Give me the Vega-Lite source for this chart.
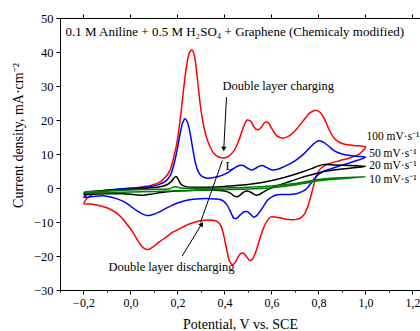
{
  "$schema": "https://vega.github.io/schema/vega-lite/v6.json",
  "width": 360,
  "height": 272,
  "autosize": {"type": "none"},
  "padding": {"left": 60, "top": 18, "right": 0, "bottom": 41},
  "config": {
    "font": "Liberation Serif",
    "view": {"stroke": null},
    "axis": {"grid": false, "domainColor": "#000", "tickColor": "#000", "labelColor": "#000", "titleColor": "#000", "labelFont": "Liberation Serif", "titleFont": "Liberation Serif", "titleFontWeight": "normal", "domainWidth": 1, "tickWidth": 1}
  },
  "datasets": {
    "cv": [
      {"s":"100","o":1,"v":-0.2,"i":-4.6},{"s":"100","o":2,"v":-0.185,"i":-3.0},{"s":"100","o":3,"v":-0.165,"i":-2.0},{"s":"100","o":4,"v":-0.13,"i":-1.3},{"s":"100","o":5,"v":-0.09,"i":-0.8},{"s":"100","o":6,"v":-0.03,"i":-0.3},{"s":"100","o":7,"v":0.04,"i":0.2},{"s":"100","o":8,"v":0.09,"i":0.8},{"s":"100","o":9,"v":0.125,"i":1.7},{"s":"100","o":10,"v":0.15,"i":3.3},{"s":"100","o":11,"v":0.168,"i":5.2},{"s":"100","o":12,"v":0.184,"i":9.0},{"s":"100","o":13,"v":0.198,"i":13.5},{"s":"100","o":14,"v":0.212,"i":20.5},{"s":"100","o":15,"v":0.226,"i":29.0},{"s":"100","o":16,"v":0.24,"i":36.5},{"s":"100","o":17,"v":0.252,"i":40.0},{"s":"100","o":18,"v":0.262,"i":40.6},{"s":"100","o":19,"v":0.272,"i":38.8},{"s":"100","o":20,"v":0.284,"i":32.5},{"s":"100","o":21,"v":0.296,"i":25.0},{"s":"100","o":22,"v":0.308,"i":19.5},{"s":"100","o":23,"v":0.322,"i":15.2},{"s":"100","o":24,"v":0.338,"i":12.2},{"s":"100","o":25,"v":0.356,"i":10.1},{"s":"100","o":26,"v":0.376,"i":9.1},{"s":"100","o":27,"v":0.397,"i":8.8},{"s":"100","o":28,"v":0.418,"i":9.4},{"s":"100","o":29,"v":0.44,"i":10.9},{"s":"100","o":30,"v":0.46,"i":13.8},{"s":"100","o":31,"v":0.48,"i":17.8},{"s":"100","o":32,"v":0.497,"i":20.0},{"s":"100","o":33,"v":0.512,"i":19.6},{"s":"100","o":34,"v":0.527,"i":17.8},{"s":"100","o":35,"v":0.541,"i":17.1},{"s":"100","o":36,"v":0.556,"i":17.8},{"s":"100","o":37,"v":0.572,"i":19.3},{"s":"100","o":38,"v":0.586,"i":19.2},{"s":"100","o":39,"v":0.602,"i":17.4},{"s":"100","o":40,"v":0.622,"i":15.4},{"s":"100","o":41,"v":0.648,"i":14.6},{"s":"100","o":42,"v":0.675,"i":15.3},{"s":"100","o":43,"v":0.705,"i":17.2},{"s":"100","o":44,"v":0.735,"i":19.8},{"s":"100","o":45,"v":0.762,"i":22.0},{"s":"100","o":46,"v":0.787,"i":22.9},{"s":"100","o":47,"v":0.808,"i":22.2},{"s":"100","o":48,"v":0.826,"i":20.2},{"s":"100","o":49,"v":0.845,"i":17.2},{"s":"100","o":50,"v":0.866,"i":14.7},{"s":"100","o":51,"v":0.892,"i":13.3},{"s":"100","o":52,"v":0.925,"i":12.7},{"s":"100","o":53,"v":0.965,"i":12.4},{"s":"100","o":54,"v":1.0,"i":12.1},
      {"s":"100","o":55,"v":0.99,"i":11.0},{"s":"100","o":56,"v":0.972,"i":9.9},{"s":"100","o":57,"v":0.935,"i":8.9},{"s":"100","o":58,"v":0.894,"i":8.1},{"s":"100","o":59,"v":0.855,"i":7.4},{"s":"100","o":60,"v":0.825,"i":6.6},{"s":"100","o":61,"v":0.805,"i":5.4},{"s":"100","o":62,"v":0.79,"i":3.3},{"s":"100","o":63,"v":0.778,"i":0.4},{"s":"100","o":64,"v":0.766,"i":-2.8},{"s":"100","o":65,"v":0.754,"i":-5.5},{"s":"100","o":66,"v":0.74,"i":-7.7},{"s":"100","o":67,"v":0.722,"i":-8.9},{"s":"100","o":68,"v":0.7,"i":-9.3},{"s":"100","o":69,"v":0.675,"i":-9.3},{"s":"100","o":70,"v":0.65,"i":-9.0},{"s":"100","o":71,"v":0.62,"i":-8.6},{"s":"100","o":72,"v":0.598,"i":-8.5},{"s":"100","o":73,"v":0.582,"i":-9.6},{"s":"100","o":74,"v":0.567,"i":-11.6},{"s":"100","o":75,"v":0.55,"i":-15.0},{"s":"100","o":76,"v":0.533,"i":-18.8},{"s":"100","o":77,"v":0.518,"i":-21.0},{"s":"100","o":78,"v":0.507,"i":-21.3},{"s":"100","o":79,"v":0.494,"i":-20.2},{"s":"100","o":80,"v":0.481,"i":-19.2},{"s":"100","o":81,"v":0.468,"i":-19.3},{"s":"100","o":82,"v":0.455,"i":-20.6},{"s":"100","o":83,"v":0.442,"i":-22.2},{"s":"100","o":84,"v":0.432,"i":-22.5},{"s":"100","o":85,"v":0.421,"i":-21.4},{"s":"100","o":86,"v":0.409,"i":-18.0},{"s":"100","o":87,"v":0.397,"i":-14.0},{"s":"100","o":88,"v":0.385,"i":-11.2},{"s":"100","o":89,"v":0.37,"i":-9.9},{"s":"100","o":90,"v":0.347,"i":-9.5},{"s":"100","o":91,"v":0.31,"i":-9.5},{"s":"100","o":92,"v":0.28,"i":-9.9},{"s":"100","o":93,"v":0.25,"i":-10.6},{"s":"100","o":94,"v":0.213,"i":-11.8},{"s":"100","o":95,"v":0.18,"i":-13.0},{"s":"100","o":96,"v":0.15,"i":-14.5},{"s":"100","o":97,"v":0.12,"i":-16.0},{"s":"100","o":98,"v":0.095,"i":-17.4},{"s":"100","o":99,"v":0.075,"i":-18.1},{"s":"100","o":100,"v":0.055,"i":-17.6},{"s":"100","o":101,"v":0.035,"i":-15.9},{"s":"100","o":102,"v":0.01,"i":-13.0},{"s":"100","o":103,"v":-0.02,"i":-10.2},{"s":"100","o":104,"v":-0.05,"i":-7.9},{"s":"100","o":105,"v":-0.09,"i":-6.1},{"s":"100","o":106,"v":-0.13,"i":-5.2},{"s":"100","o":107,"v":-0.17,"i":-4.7},{"s":"100","o":108,"v":-0.2,"i":-4.6},
      {"s":"50","o":1,"v":-0.2,"i":-2.8},{"s":"50","o":2,"v":-0.188,"i":-2.0},{"s":"50","o":3,"v":-0.165,"i":-1.4},{"s":"50","o":4,"v":-0.12,"i":-0.8},{"s":"50","o":5,"v":-0.05,"i":-0.3},{"s":"50","o":6,"v":0.02,"i":0.0},{"s":"50","o":7,"v":0.08,"i":0.4},{"s":"50","o":8,"v":0.12,"i":1.0},{"s":"50","o":9,"v":0.15,"i":2.0},{"s":"50","o":10,"v":0.17,"i":3.8},{"s":"50","o":11,"v":0.185,"i":7.0},{"s":"50","o":12,"v":0.198,"i":11.0},{"s":"50","o":13,"v":0.21,"i":15.5},{"s":"50","o":14,"v":0.222,"i":19.2},{"s":"50","o":15,"v":0.232,"i":20.4},{"s":"50","o":16,"v":0.242,"i":19.4},{"s":"50","o":17,"v":0.254,"i":16.0},{"s":"50","o":18,"v":0.265,"i":11.5},{"s":"50","o":19,"v":0.276,"i":7.5},{"s":"50","o":20,"v":0.288,"i":4.8},{"s":"50","o":21,"v":0.303,"i":3.5},{"s":"50","o":22,"v":0.326,"i":2.9},{"s":"50","o":23,"v":0.37,"i":3.3},{"s":"50","o":24,"v":0.41,"i":4.4},{"s":"50","o":25,"v":0.44,"i":5.8},{"s":"50","o":26,"v":0.462,"i":6.6},{"s":"50","o":27,"v":0.48,"i":6.6},{"s":"50","o":28,"v":0.499,"i":5.8},{"s":"50","o":29,"v":0.518,"i":5.3},{"s":"50","o":30,"v":0.54,"i":6.1},{"s":"50","o":31,"v":0.56,"i":6.6},{"s":"50","o":32,"v":0.58,"i":6.0},{"s":"50","o":33,"v":0.603,"i":5.3},{"s":"50","o":34,"v":0.63,"i":5.6},{"s":"50","o":35,"v":0.66,"i":6.5},{"s":"50","o":36,"v":0.7,"i":8.0},{"s":"50","o":37,"v":0.74,"i":10.2},{"s":"50","o":38,"v":0.775,"i":12.7},{"s":"50","o":39,"v":0.8,"i":13.9},{"s":"50","o":40,"v":0.82,"i":13.5},{"s":"50","o":41,"v":0.845,"i":12.2},{"s":"50","o":42,"v":0.866,"i":11.0},{"s":"50","o":43,"v":0.9,"i":10.0},{"s":"50","o":44,"v":0.94,"i":9.5},{"s":"50","o":45,"v":0.97,"i":9.3},{"s":"50","o":46,"v":1.0,"i":9.1},
      {"s":"50","o":47,"v":0.982,"i":8.5},{"s":"50","o":48,"v":0.96,"i":8.0},{"s":"50","o":49,"v":0.928,"i":7.3},{"s":"50","o":50,"v":0.894,"i":6.6},{"s":"50","o":51,"v":0.852,"i":5.6},{"s":"50","o":52,"v":0.823,"i":5.0},{"s":"50","o":53,"v":0.8,"i":4.0},{"s":"50","o":54,"v":0.782,"i":2.7},{"s":"50","o":55,"v":0.767,"i":1.3},{"s":"50","o":56,"v":0.752,"i":0.0},{"s":"50","o":57,"v":0.738,"i":-0.8},{"s":"50","o":58,"v":0.71,"i":-1.6},{"s":"50","o":59,"v":0.68,"i":-1.9},{"s":"50","o":60,"v":0.65,"i":-1.9},{"s":"50","o":61,"v":0.624,"i":-2.0},{"s":"50","o":62,"v":0.602,"i":-2.6},{"s":"50","o":63,"v":0.583,"i":-3.6},{"s":"50","o":64,"v":0.566,"i":-5.4},{"s":"50","o":65,"v":0.55,"i":-7.0},{"s":"50","o":66,"v":0.536,"i":-8.2},{"s":"50","o":67,"v":0.525,"i":-8.6},{"s":"50","o":68,"v":0.513,"i":-7.9},{"s":"50","o":69,"v":0.499,"i":-7.0},{"s":"50","o":70,"v":0.483,"i":-7.0},{"s":"50","o":71,"v":0.467,"i":-7.9},{"s":"50","o":72,"v":0.452,"i":-8.9},{"s":"50","o":73,"v":0.44,"i":-8.9},{"s":"50","o":74,"v":0.426,"i":-7.0},{"s":"50","o":75,"v":0.41,"i":-4.9},{"s":"50","o":76,"v":0.39,"i":-3.6},{"s":"50","o":77,"v":0.36,"i":-3.2},{"s":"50","o":78,"v":0.32,"i":-3.1},{"s":"50","o":79,"v":0.28,"i":-3.2},{"s":"50","o":80,"v":0.24,"i":-3.6},{"s":"50","o":81,"v":0.2,"i":-4.4},{"s":"50","o":82,"v":0.177,"i":-5.1},{"s":"50","o":83,"v":0.15,"i":-6.0},{"s":"50","o":84,"v":0.121,"i":-7.1},{"s":"50","o":85,"v":0.095,"i":-7.8},{"s":"50","o":86,"v":0.071,"i":-8.1},{"s":"50","o":87,"v":0.05,"i":-7.6},{"s":"50","o":88,"v":0.025,"i":-6.6},{"s":"50","o":89,"v":0.0,"i":-5.3},{"s":"50","o":90,"v":-0.035,"i":-3.8},{"s":"50","o":91,"v":-0.08,"i":-2.7},{"s":"50","o":92,"v":-0.12,"i":-2.3},{"s":"50","o":93,"v":-0.16,"i":-2.5},{"s":"50","o":94,"v":-0.2,"i":-2.8},
      {"s":"20","o":1,"v":-0.2,"i":-1.9},{"s":"20","o":2,"v":-0.185,"i":-1.3},{"s":"20","o":3,"v":-0.14,"i":-0.9},{"s":"20","o":4,"v":-0.06,"i":-0.5},{"s":"20","o":5,"v":0.04,"i":-0.2},{"s":"20","o":6,"v":0.11,"i":0.2},{"s":"20","o":7,"v":0.15,"i":0.8},{"s":"20","o":8,"v":0.172,"i":1.8},{"s":"20","o":9,"v":0.186,"i":3.0},{"s":"20","o":10,"v":0.194,"i":3.4},{"s":"20","o":11,"v":0.203,"i":2.6},{"s":"20","o":12,"v":0.215,"i":1.1},{"s":"20","o":13,"v":0.235,"i":0.4},{"s":"20","o":14,"v":0.29,"i":0.2},{"s":"20","o":15,"v":0.36,"i":0.3},{"s":"20","o":16,"v":0.43,"i":0.6},{"s":"20","o":17,"v":0.5,"i":1.0},{"s":"20","o":18,"v":0.56,"i":1.6},{"s":"20","o":19,"v":0.62,"i":2.5},{"s":"20","o":20,"v":0.68,"i":3.6},{"s":"20","o":21,"v":0.73,"i":4.7},{"s":"20","o":22,"v":0.77,"i":5.7},{"s":"20","o":23,"v":0.8,"i":6.5},{"s":"20","o":24,"v":0.823,"i":6.9},{"s":"20","o":25,"v":0.87,"i":6.8},{"s":"20","o":26,"v":0.93,"i":6.6},{"s":"20","o":27,"v":1.0,"i":6.4},{"s":"20","o":28,"v":0.96,"i":6.0},{"s":"20","o":29,"v":0.9,"i":5.6},{"s":"20","o":30,"v":0.82,"i":4.8},{"s":"20","o":31,"v":0.77,"i":3.9},{"s":"20","o":32,"v":0.72,"i":2.9},{"s":"20","o":33,"v":0.66,"i":1.5},{"s":"20","o":34,"v":0.61,"i":0.3},{"s":"20","o":35,"v":0.585,"i":-0.4},{"s":"20","o":36,"v":0.565,"i":-1.2},{"s":"20","o":37,"v":0.548,"i":-1.9},{"s":"20","o":38,"v":0.535,"i":-2.1},{"s":"20","o":39,"v":0.522,"i":-1.7},{"s":"20","o":40,"v":0.508,"i":-1.1},{"s":"20","o":41,"v":0.494,"i":-0.9},{"s":"20","o":42,"v":0.48,"i":-1.3},{"s":"20","o":43,"v":0.466,"i":-2.1},{"s":"20","o":44,"v":0.454,"i":-2.6},{"s":"20","o":45,"v":0.442,"i":-2.4},{"s":"20","o":46,"v":0.425,"i":-1.5},{"s":"20","o":47,"v":0.4,"i":-0.9},{"s":"20","o":48,"v":0.34,"i":-0.6},{"s":"20","o":49,"v":0.26,"i":-0.7},{"s":"20","o":50,"v":0.19,"i":-0.9},{"s":"20","o":51,"v":0.13,"i":-1.3},{"s":"20","o":52,"v":0.09,"i":-1.8},{"s":"20","o":53,"v":0.055,"i":-2.1},{"s":"20","o":54,"v":0.02,"i":-2.0},{"s":"20","o":55,"v":-0.03,"i":-1.7},{"s":"20","o":56,"v":-0.1,"i":-1.7},{"s":"20","o":57,"v":-0.2,"i":-1.9},
      {"s":"10","o":1,"v":-0.2,"i":-1.5},{"s":"10","o":2,"v":-0.19,"i":-1.1},{"s":"10","o":3,"v":-0.1,"i":-0.9},{"s":"10","o":4,"v":0.0,"i":-0.6},{"s":"10","o":5,"v":0.1,"i":-0.4},{"s":"10","o":6,"v":0.165,"i":-0.2},{"s":"10","o":7,"v":0.19,"i":0.4},{"s":"10","o":8,"v":0.215,"i":0.0},{"s":"10","o":9,"v":0.3,"i":-0.1},{"s":"10","o":10,"v":0.4,"i":0.0},{"s":"10","o":11,"v":0.5,"i":0.2},{"s":"10","o":12,"v":0.6,"i":0.6},{"s":"10","o":13,"v":0.7,"i":1.3},{"s":"10","o":14,"v":0.75,"i":1.9},{"s":"10","o":15,"v":0.8,"i":2.5},{"s":"10","o":16,"v":0.85,"i":2.9},{"s":"10","o":17,"v":0.92,"i":3.1},{"s":"10","o":18,"v":1.0,"i":3.3},{"s":"10","o":19,"v":0.93,"i":2.9},{"s":"10","o":20,"v":0.85,"i":2.5},{"s":"10","o":21,"v":0.8,"i":2.1},{"s":"10","o":22,"v":0.75,"i":1.5},{"s":"10","o":23,"v":0.7,"i":0.9},{"s":"10","o":24,"v":0.6,"i":0.1},{"s":"10","o":25,"v":0.5,"i":-0.3},{"s":"10","o":26,"v":0.4,"i":-0.5},{"s":"10","o":27,"v":0.3,"i":-0.6},{"s":"10","o":28,"v":0.2,"i":-0.8},{"s":"10","o":29,"v":0.1,"i":-1.0},{"s":"10","o":30,"v":0.0,"i":-1.2},{"s":"10","o":31,"v":-0.1,"i":-1.4},{"s":"10","o":32,"v":-0.2,"i":-1.5}
    ],
    "arrows": [
      {"v":0.4085,"i":26.7,"v2":0.397,"i2":11.5},
      {"v":0.22,"i":-20.0,"v2":0.303,"i2":-10.6},
      {"v":0.298,"i":-10.1,"v2":0.391,"i2":8.1}
    ],
    "notes": [
      {"t":"Double layer charging","v":0.391,"i":29.9},
      {"t":"Double layer discharging","v":-0.094,"i":-23.3},
      {"t":"L","v":0.404,"i":6.6}
    ],
    "rates": [
      {"t":"100 mV·s⁻¹","v":1.004,"i":14.9},
      {"t":"50 mV·s⁻¹","v":1.016,"i":10.1},
      {"t":"20 mV·s⁻¹","v":1.016,"i":6.6},
      {"t":"10 mV·s⁻¹","v":1.016,"i":2.5}
    ],
    "heading": [
      {"t":"0.1 M Aniline + 0.5 M H₂SO₄ + Graphene (Chemicaly modified)","v":-0.2766,"i":45.9}
    ]
  },
  "resolve": {"axis": {"x": "independent", "y": "independent"}},
  "layer": [
    {
      "data": {"name": "cv"},
      "mark": {"type": "line", "interpolate": "catmull-rom"},
      "encoding": {
        "x": {"field": "v", "type": "quantitative", "scale": {"domain": [-0.3, 1.232], "nice": false, "zero": false},
          "axis": {"orient": "bottom", "title": "Potential, V vs. SCE", "values": [-0.2, 0, 0.2, 0.4, 0.6, 0.8, 1.0, 1.2], "labelExpr": "replace(format(datum.value, '.1f'), '.', ',')", "tickSize": 4, "labelPadding": 3, "labelFontSize": 12, "titleFontSize": 14, "titleBaseline": "alphabetic", "titleY": 38, "labelFlush": false}},
        "y": {"field": "i", "type": "quantitative", "scale": {"domain": [-30, 50], "nice": false, "zero": false},
          "axis": {"orient": "left", "title": "Current density, mA·cm⁻²", "values": [-30, -20, -10, 0, 10, 20, 30, 40, 50], "tickSize": 4, "labelPadding": 3, "labelFontSize": 12.5, "titleFontSize": 14, "titleBaseline": "alphabetic", "titleX": -38, "titleY": 117, "labelFlush": false}},
        "color": {"field": "s", "type": "nominal", "scale": {"domain": ["100", "50", "20", "10"], "range": ["#ff0000", "#0000ff", "#000000", "#008000"]}, "legend": null},
        "strokeWidth": {"field": "s", "type": "ordinal", "scale": {"domain": ["100", "50", "20", "10"], "range": [1.5, 1.5, 1.3, 2.2]}, "legend": null},
        "order": {"field": "o", "type": "quantitative"}
      }
    },
    {
      "data": {"name": "arrows"},
      "mark": {"type": "rule", "color": "#000", "strokeWidth": 1},
      "encoding": {
        "x": {"field": "v", "type": "quantitative", "axis": {"orient": "bottom", "title": null, "values": [-0.3, -0.1, 0.1, 0.3, 0.5, 0.7, 0.9, 1.1], "labels": false, "domain": false, "tickSize": 2}},
        "y": {"field": "i", "type": "quantitative", "axis": null},
        "x2": {"field": "v2"},
        "y2": {"field": "i2"}
      }
    },
    {
      "data": {"name": "arrows"},
      "transform": [{"filter": "datum.i > 20"}],
      "mark": {"type": "point", "shape": "triangle-down", "filled": true, "color": "#000", "size": 28, "angle": 2, "opacity": 1},
      "encoding": {
        "x": {"field": "v2", "type": "quantitative", "axis": {"orient": "top", "title": null, "values": [-0.2, 0, 0.2, 0.4, 0.6, 0.8, 1.0, 1.2], "labels": false, "tickSize": 4}},
        "y": {"field": "i2", "type": "quantitative", "axis": null}
      }
    },
    {
      "data": {"name": "arrows"},
      "transform": [{"filter": "datum.i < -15"}],
      "mark": {"type": "point", "shape": "triangle-up", "filled": true, "color": "#000", "size": 28, "angle": 32, "opacity": 1},
      "encoding": {
        "x": {"field": "v2", "type": "quantitative", "axis": null},
        "y": {"field": "i2", "type": "quantitative", "axis": null}
      }
    },
    {
      "data": {"name": "notes"},
      "mark": {"type": "text", "align": "left", "baseline": "middle", "fontSize": 12.5, "color": "#000"},
      "encoding": {
        "x": {"field": "v", "type": "quantitative", "axis": null},
        "y": {"field": "i", "type": "quantitative", "axis": null},
        "text": {"field": "t"}
      }
    },
    {
      "data": {"name": "rates"},
      "mark": {"type": "text", "align": "left", "baseline": "middle", "fontSize": 11.5, "color": "#000"},
      "encoding": {
        "x": {"field": "v", "type": "quantitative", "axis": null},
        "y": {"field": "i", "type": "quantitative", "axis": null},
        "text": {"field": "t"}
      }
    },
    {
      "data": {"name": "heading"},
      "mark": {"type": "text", "align": "left", "baseline": "middle", "fontSize": 13, "color": "#000"},
      "encoding": {
        "x": {"field": "v", "type": "quantitative", "axis": null},
        "y": {"field": "i", "type": "quantitative", "axis": null},
        "text": {"field": "t"}
      }
    }
  ]
}
